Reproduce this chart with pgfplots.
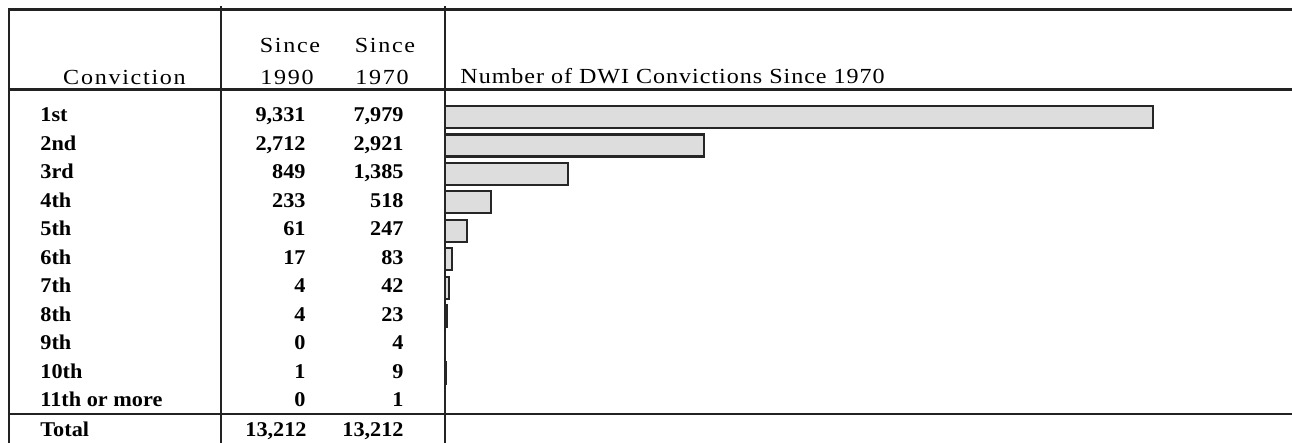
\documentclass[border=0pt]{standalone}
\usepackage{pgfplots}
\pgfplotsset{compat=1.18}
\usepackage{fontspec}
\setmainfont{Liberation Serif}
\newfontfamily\hdrfont[FakeStretch=1.12,LetterSpace=8]{Liberation Serif}
\newfontfamily\ttlfont[FakeStretch=1.12,LetterSpace=4.5]{Liberation Serif}
\newfontfamily\bodyfont[FakeStretch=1.06]{Liberation Serif}
\definecolor{barfill}{HTML}{DDDDDD}
\definecolor{linecol}{HTML}{222222}
\begin{document}
\begin{tikzpicture}[x=0.5pt,y=-0.5pt]
\useasboundingbox (0,0) rectangle (1292,443);
\coordinate (axnw) at (445,89.5);
% table rules
\draw[line width=1.25pt, linecol] (9,9.5) -- (1292,9.5);
\draw[line width=1.25pt, linecol] (9,89.5) -- (1292,89.5);
\draw[line width=1.25pt, linecol] (9,414) -- (1292,414);
\draw[line width=1pt, linecol] (9,8.5) -- (9,443);
\draw[line width=1pt, linecol] (221,6) -- (221,443);
\draw[line width=1pt, linecol] (445,6) -- (445,443);
% header
\begin{scope}[every node/.style={inner sep=0pt, font=\hdrfont\fontsize{10.75}{12}\selectfont}]
\node[anchor=base] at (124.5,85) {Conviction};
\node[anchor=base] at (290,53) {Since};
\node[anchor=base] at (287,85) {1990};
\node[anchor=base] at (385,53) {Since};
\node[anchor=base] at (382,85) {1970};
\end{scope}
\node[anchor=base west, inner sep=0pt, font=\ttlfont\fontsize{10.75}{12}\selectfont] at (460,84) {Number of DWI Convictions Since 1970};
% rows
\begin{scope}[every node/.style={inner sep=0pt, font=\bodyfont\bfseries\fontsize{10.5}{12}\selectfont}]
\foreach \lab/\a/\b [count=\i from 0] in {1st/{9,331}/{7,979}, 2nd/{2,712}/{2,921}, 3rd/849/{1,385}, 4th/233/518, 5th/61/247, 6th/17/83, 7th/4/42, 8th/4/23, 9th/0/4, 10th/1/9, 11th or more/0/1}{
  \node[anchor=base west] at (40,122+28.5*\i) {\lab};
  \node[anchor=base east] at (306,122+28.5*\i) {\a};
  \node[anchor=base east] at (404,122+28.5*\i) {\b};
}
\node[anchor=base west] at (40,437) {Total};
\node[anchor=base east] at (307,437) {13,212};
\node[anchor=base east] at (404,437) {13,212};
\end{scope}
% bars
\begin{axis}[at={(axnw)}, anchor=north west, scale only axis,
  width=423.5pt, height=162.25pt,
  xmin=0, xmax=9545, ymin=0.035, ymax=11.44, y dir=reverse,
  hide axis, clip=false, xbar, bar width=11pt]
\addplot[fill=barfill, draw=black!85, line width=1.1pt] coordinates {
(7979,1) (2921,2) (1385,3) (518,4) (247,5) (83,6) (42,7) (23,8) (4,9) (9,10) (1,11)};
\end{axis}
\end{tikzpicture}
\end{document}
